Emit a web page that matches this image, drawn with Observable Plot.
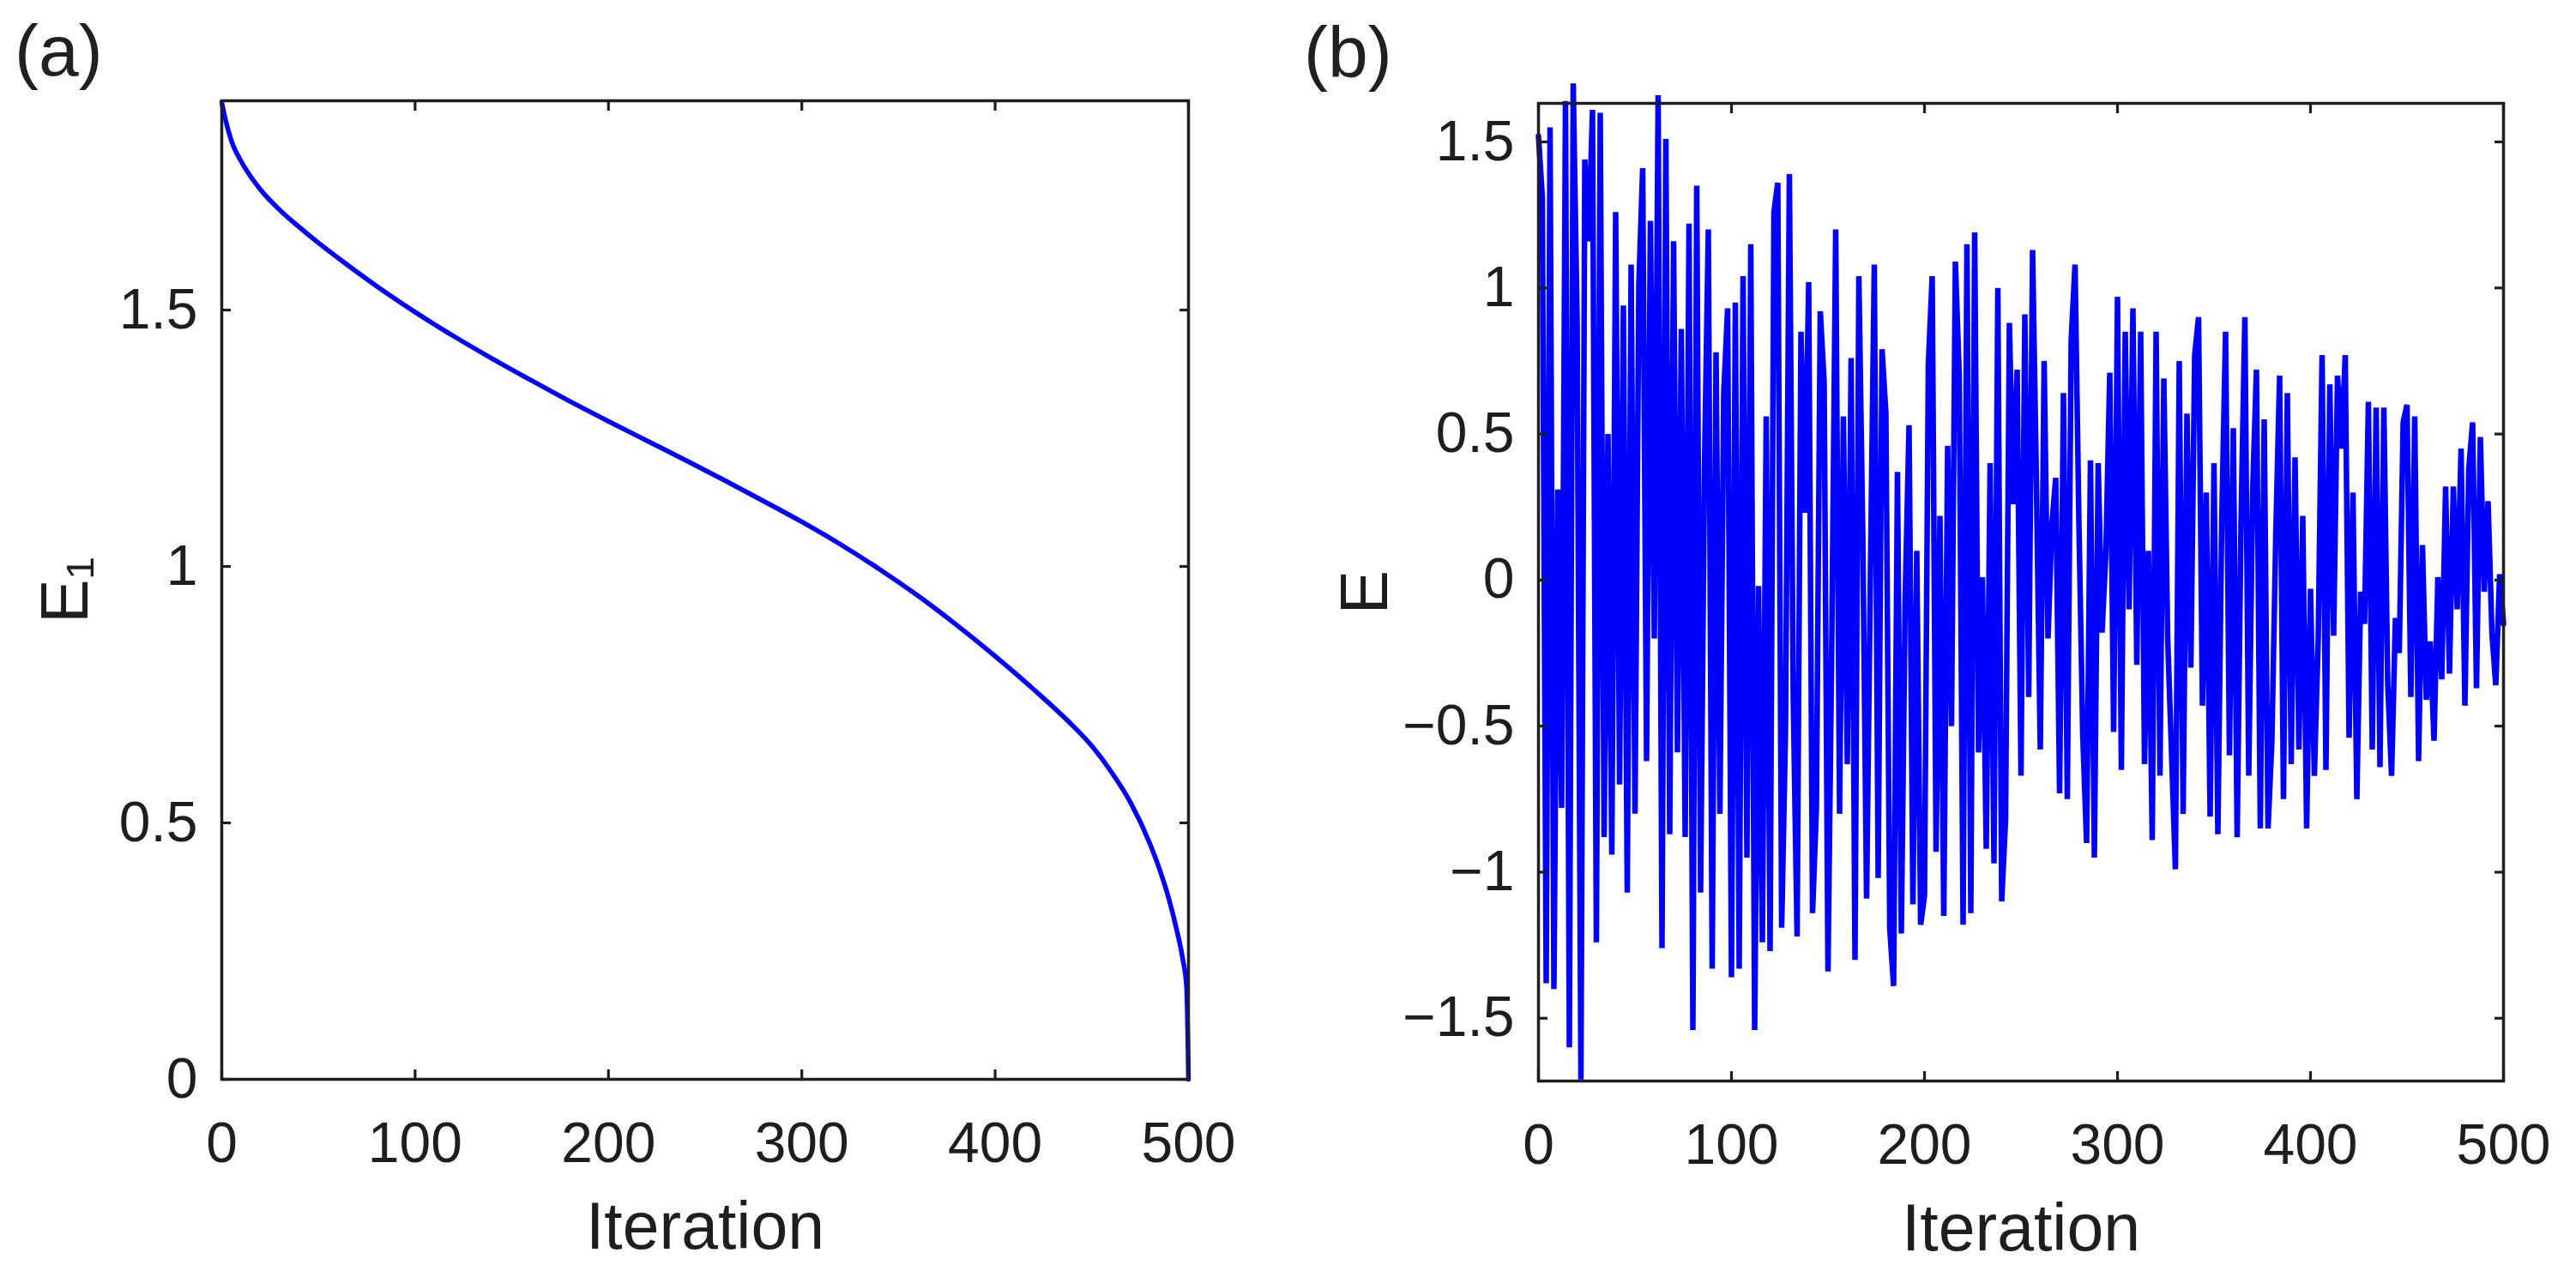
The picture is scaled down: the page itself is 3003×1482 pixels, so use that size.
<!DOCTYPE html>
<html>
<head>
<meta charset="utf-8">
<script src="https://cdn.jsdelivr.net/npm/d3@7"></script>
<script src="https://cdn.jsdelivr.net/npm/@observablehq/plot@0.6"></script>
<style>
  html, body { margin: 0; padding: 0; background: #ffffff; }
  #wrap { position: relative; width: 3003px; height: 1482px; overflow: hidden;
          font-family: "Liberation Sans", Arial, Helvetica, sans-serif; background: #fff; }
  .panel { position: absolute; top: 0; }
  .tag { position: absolute; font-size: 84px; line-height: 1; color: #231f20; white-space: nowrap; }
</style>
</head>
<body>
<div id="wrap">
  <div class="tag" id="tagA" style="left:17px; top:17px;"></div>
  <div class="tag" id="tagB" style="left:1520px; top:19px;"></div>
  <div class="panel" id="panelA" style="left:0px;"></div>
  <div class="panel" id="panelB" style="left:1500px;"></div>
</div>
<script>
// ---------------- data ----------------
const panelTags = ["(a)", "(b)"];
const xLabel = "Iteration";
const aYLabel = "E\u2081";
const bYLabel = "E";

const xTicks = [0, 100, 200, 300, 400, 500];
const aYTicks = [0, 0.5, 1, 1.5];
const bYTicks = [-1.5, -1, -0.5, 0, 0.5, 1, 1.5];
const xDomain = [0, 500];
const aYDomain = [0, 1.908];
const bYDomain = [-1.715, 1.632];

// panel (a): E1 versus iteration
const aIter = [0, 2, 5, 10, 15, 20, 30, 40, 50, 60, 70, 80, 90, 100, 110, 120, 140, 160, 180, 200,
               220, 240, 260, 280, 300, 320, 340, 360, 380, 400, 420, 440, 450, 460, 470, 480,
               485, 490, 494, 497, 499, 500];
const aE1 = [1.905, 1.870, 1.830, 1.790, 1.760, 1.735, 1.695, 1.662, 1.631, 1.602, 1.574, 1.547, 1.521,
             1.496, 1.472, 1.449, 1.405, 1.363, 1.322, 1.283, 1.245, 1.207, 1.168, 1.128, 1.087,
             1.043, 0.995, 0.943, 0.886, 0.825, 0.760, 0.690, 0.650, 0.600, 0.540, 0.460,
             0.410, 0.350, 0.290, 0.235, 0.180, 0.0];

// panel (b): E versus iteration, sampled every 2 iterations (0, 2, ..., 500)
const bStep = 2;
const bE_000_122 = [
  1.52, 1.31, -1.38, 1.55, -1.40, 0.31, -0.78, 1.64, -1.60, 1.70,
  0.90, -1.71, 1.44, 1.16, 1.61, -1.24, 1.60, -0.88, 0.50, -0.94,
  1.26, -0.70, 0.94, -1.07, 1.08, -0.80, 1.01, 1.41, -0.62, 1.23,
  -0.20, 1.66, -1.26, 1.51, -0.87, 1.16, -0.59, 0.86, -0.88, 1.22,
  -1.54, 1.35, -1.07, 0.38, 1.20, -1.33, 0.78, -0.80, 0.64, 0.93,
  -1.36, 0.95, -1.33, 1.04, -0.95, 1.15, -1.54, -0.02, -1.24, 0.56,
  -1.27, 1.26];
const bE_124_248 = [
  1.36, -1.19, -0.51, 1.39, -0.40, -1.22, 0.85, 0.23, 1.02, -1.14,
  -0.78, 0.92, 0.68, -1.34, -0.19, 1.20, -0.80, 0.56, -0.63, 0.76,
  -1.30, 1.04, 0.17, -1.09, 0.03, 1.08, -1.02, 0.79, 0.57, -1.19,
  -1.39, 0.37, -1.21, -0.06, 0.53, -1.11, 0.10, -1.18, -1.08, 0.74,
  1.04, -0.93, 0.22, -1.15, 0.46, -0.50, 1.09, 0.70, -1.18, 1.15,
  -1.14, 1.19, -0.59, 0.01, -0.92, 0.40, -0.97, 1.00, -1.10, -0.82,
  0.88, 0.26, 0.72];
const bE_250_374 = [
  -0.67, 0.91, -0.40, 1.13, 0.33, -0.58, 0.75, -0.20, 0.19, 0.35,
  -0.73, 0.64, -0.75, 0.82, 1.08, 0.20, -0.53, -0.90, 0.41, -0.95,
  0.40, -0.18, 0.10, 0.71, -0.52, 0.97, -0.65, 0.85, -0.10, 0.93,
  -0.29, 0.85, -0.63, 0.10, -0.89, 0.85, -0.67, 0.69, -0.20, -0.59,
  -0.99, 0.75, -0.80, 0.57, -0.30, 0.77, 0.90, -0.43, 0.30, -0.81,
  0.40, -0.87, 0.20, 0.85, -0.60, 0.52, -0.88, 0.20, 0.90, -0.67,
  0.30, 0.72, -0.85];
const bE_376_500 = [
  0.55, -0.85, -0.55, 0.15, 0.70, -0.75, 0.64, -0.63, 0.42, -0.58,
  0.22, -0.85, -0.03, -0.67, -0.20, 0.77, -0.65, 0.67, -0.19, 0.70,
  0.45, 0.77, -0.54, 0.30, -0.75, -0.04, -0.15, 0.61, -0.58, 0.59,
  -0.64, 0.59, -0.35, -0.67, -0.13, -0.25, 0.54, 0.60, -0.40, 0.56,
  -0.62, 0.12, -0.41, -0.21, -0.55, 0.01, -0.34, 0.32, -0.32, 0.32,
  -0.10, 0.45, -0.43, 0.38, 0.54, -0.37, 0.49, -0.04, 0.27, -0.18,
  -0.36, 0.02, -0.15];

// ---------------- build ----------------
const INK = "#1e1e1e";
const BLUE = "#0000ff";
const FONT = "'Liberation Sans', Arial, Helvetica, sans-serif";

document.getElementById("tagA").textContent = panelTags[0];
document.getElementById("tagB").textContent = panelTags[1];

const aData = aIter.map((it, i) => ({it, v: aE1[i]}));
const bValues = [...bE_000_122, ...bE_124_248, ...bE_250_374, ...bE_376_500];
const bData = bValues.map((v, i) => ({it: i * bStep, v}));

const fmt = d => (d < 0 ? "\u2212" : "") + String(Math.abs(d));
const blank = () => "";

function boxAxes(yTicks, yLabel, yLabelDx) {
  const tick = {tickSize: -11, strokeWidth: 3.2, fontSize: 66, label: null};
  return [
    Plot.axisX({...tick, anchor: "bottom", ticks: xTicks, tickFormat: fmt, tickPadding: 61}),
    Plot.axisX({...tick, anchor: "top", ticks: xTicks, tickFormat: blank, tickPadding: 0}),
    Plot.axisY({...tick, anchor: "left", ticks: yTicks, tickFormat: fmt, tickPadding: 39}),
    Plot.axisY({...tick, anchor: "right", ticks: yTicks, tickFormat: blank, tickPadding: 0}),
    Plot.frame({stroke: INK, strokeWidth: 3.5}),
    Plot.text([xLabel], {text: d => d, frameAnchor: "bottom", lineAnchor: "bottom", dy: 197,
                         fontSize: 77, fill: INK}),
    Plot.text([yLabel], {text: d => d, frameAnchor: "left", rotate: -90, dx: yLabelDx,
                         fontSize: 77, fill: INK, textAnchor: "middle", lineAnchor: "middle"})
  ];
}

const plotA = Plot.plot({
  width: 1500, height: 1482,
  marginLeft: 258, marginRight: 115, marginTop: 117, marginBottom: 224,
  style: {fontFamily: FONT, color: INK, background: "transparent", overflow: "visible"},
  x: {domain: xDomain},
  y: {domain: aYDomain},
  marks: [
    Plot.line(aData, {x: "it", y: "v", stroke: BLUE, strokeWidth: 5.5, curve: "monotone-x"}),
    ...boxAxes(aYTicks, aYLabel, -181)
  ]
});

const plotB = Plot.plot({
  width: 1503, height: 1482,
  marginLeft: 293, marginRight: 85, marginTop: 120, marginBottom: 222,
  style: {fontFamily: FONT, color: INK, background: "transparent", overflow: "visible"},
  x: {domain: xDomain},
  y: {domain: bYDomain},
  marks: [
    Plot.line(bData, {x: "it", y: "v", stroke: BLUE, strokeWidth: 6.5, strokeLinejoin: "miter"}),
    ...boxAxes(bYTicks, bYLabel, -201)
  ]
});

document.getElementById("panelA").appendChild(plotA);
document.getElementById("panelB").appendChild(plotB);
</script>
</body>
</html>
